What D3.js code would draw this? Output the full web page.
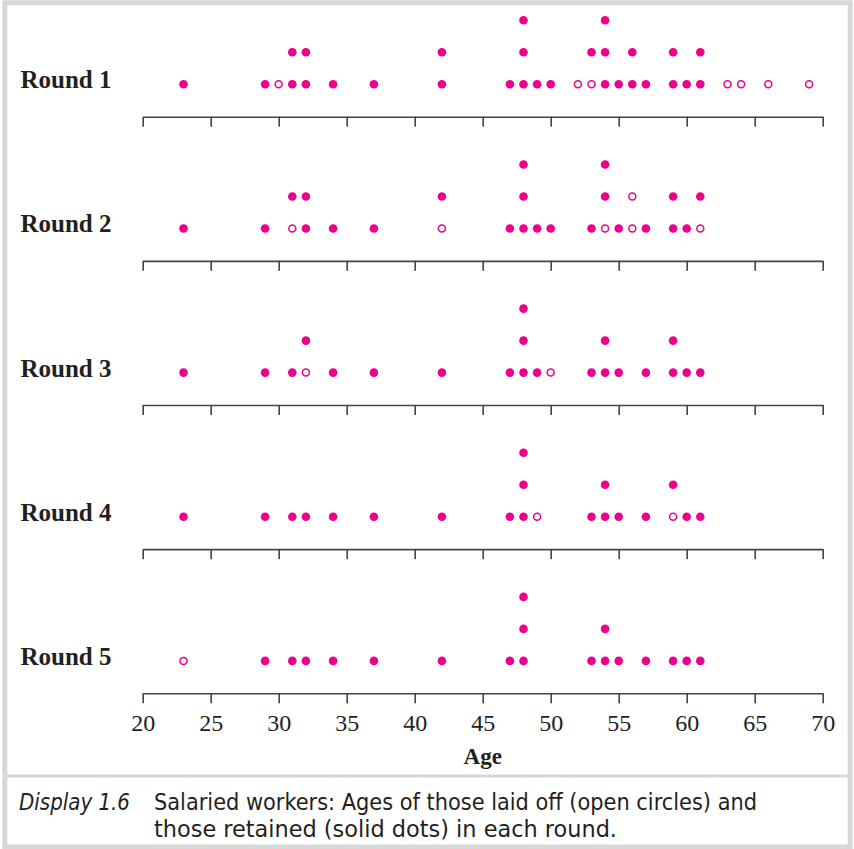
<!DOCTYPE html>
<html>
<head>
<meta charset="utf-8">
<script src="https://cdn.jsdelivr.net/npm/d3@7"></script>
<style>
  html, body { margin: 0; padding: 0; background: #fff; }
  svg { display: block; }
</style>
</head>
<body>
<svg id="chart" width="854" height="849"></svg>
<script>
// ---------------- DATA ----------------
const rounds = ["Round 1", "Round 2", "Round 3", "Round 4", "Round 5"];
// ages of those laid off in each round (open circles)
const laidOff1 = [30, 52, 53, 63, 64, 66, 69];
const laidOff2 = [31, 42, 54, 56, 56, 61];
const laidOff3 = [32, 50];
const laidOff4 = [49, 59];
const laidOff5 = [23];
// ages of those retained in each round (solid dots)
const retained1 = [23, 29, 31, 31, 32, 32, 34, 37, 42, 42, 47, 48, 48, 48, 49, 50, 53, 54, 54, 54, 55, 56, 56, 57, 59, 59, 60, 61, 61];
const retained2 = [23, 29, 31, 32, 32, 34, 37, 42, 47, 48, 48, 48, 49, 50, 53, 54, 54, 55, 57, 59, 59, 60, 61];
const retained3 = [23, 29, 31, 32, 34, 37, 42, 47, 48, 48, 48, 49, 53, 54, 54, 55, 57, 59, 59, 60, 61];
const retained4 = [23, 29, 31, 32, 34, 37, 42, 47, 48, 48, 48, 53, 54, 54, 55, 57, 59, 60, 61];
const retained5 = [29, 31, 32, 34, 37, 42, 47, 48, 48, 48, 53, 54, 54, 55, 57, 59, 60, 61];
const ageTicks = [20, 25, 30, 35, 40, 45, 50, 55, 60, 65, 70];
const xTitle = "Age";
const captionLabel = "Display 1.6";
const captionLines = ["Salaried workers: Ages of those laid off (open circles) and",
                      "those retained (solid dots) in each round."];

const laidOffAll = [laidOff1, laidOff2, laidOff3, laidOff4, laidOff5];
const retainedAll = [retained1, retained2, retained3, retained4, retained5];

// ---------------- DRAW ----------------
const svg = d3.select("#chart");
const ink = "#231f20";
const dotColor = "#ec008c";
const serif = "'Liberation Serif', 'Times New Roman', serif";

const x = d3.scaleLinear().domain([20, 70]).range([142.7, 822.7]);
const yRound = d3.scalePoint().domain(rounds).range([116.7, 693.3]);
const stackOff = d3.scaleLinear().domain([0, 1]).range([32.4, 64.4]);

// frame
svg.append("rect")
  .attr("x", 4.8).attr("y", 2.8).attr("width", 845.4).attr("height", 844.2)
  .attr("fill", "none").attr("stroke", "#d7d7d7").attr("stroke-width", 5);
svg.append("line")
  .attr("x1", 5).attr("x2", 850).attr("y1", 776).attr("y2", 776)
  .attr("stroke", "#d7d7d7").attr("stroke-width", 3);

rounds.forEach((r, i) => {
  const ay = yRound(r);
  // build points: open circles at bottom of each stack, then solid dots
  const pts = [];
  const counts = new Map();
  laidOffAll[i].forEach(a => { const k = counts.get(a) || 0; counts.set(a, k + 1); pts.push({age: a, k, open: true}); });
  retainedAll[i].forEach(a => { const k = counts.get(a) || 0; counts.set(a, k + 1); pts.push({age: a, k, open: false}); });

  const g = svg.append("g");

  // axis
  const axis = d3.axisBottom(x).tickValues(ageTicks).tickSize(10).tickSizeOuter(0).tickPadding(11);
  if (i < rounds.length - 1) axis.tickFormat("");
  const ag = g.append("g").attr("transform", `translate(0,${ay})`).call(axis);
  ag.select(".domain").attr("stroke", "#444").attr("stroke-width", 1.6);
  ag.selectAll(".tick line").attr("stroke", "#444").attr("stroke-width", 1.6);
  ag.selectAll(".tick text").attr("fill", ink).style("font-family", serif).style("font-size", "24px");

  // dots
  g.selectAll("circle.dot").data(pts).join("circle")
    .attr("class", "dot")
    .attr("cx", d => x(d.age))
    .attr("cy", d => ay - stackOff(d.k))
    .attr("r", d => d.open ? 3.5 : 4.3)
    .attr("fill", d => d.open ? "#fff" : dotColor)
    .attr("stroke", d => d.open ? dotColor : "none")
    .attr("stroke-width", 1.5);

  // label
  g.append("text")
    .attr("x", 20.5).attr("y", ay - stackOff(0) + 4)
    .attr("fill", ink)
    .style("font-family", serif).style("font-weight", "bold").style("font-size", "25px")
    .text(r);
});

// x title
svg.append("text")
  .attr("x", x(45)).attr("y", 764).attr("text-anchor", "middle")
  .attr("fill", ink)
  .style("font-family", serif).style("font-weight", "bold").style("font-size", "23px")
  .text(xTitle);

// caption
const capFont = "'Liberation Sans Narrow', 'DejaVu Sans Condensed', 'Liberation Sans', sans-serif";
svg.append("text")
  .attr("x", 19).attr("y", 810)
  .attr("fill", ink)
  .attr("textLength", 111).attr("lengthAdjust", "spacingAndGlyphs")
  .style("font-family", capFont).style("font-style", "italic").style("font-size", "23px")
  .text(captionLabel);
const capW = [603, 463];
captionLines.forEach((t, j) => {
  svg.append("text")
    .attr("x", 154).attr("y", 810 + j * 26.5)
    .attr("fill", ink)
    .attr("textLength", capW[j]).attr("lengthAdjust", "spacingAndGlyphs")
    .style("font-family", capFont).style("font-size", "23px")
    .text(t);
});
</script>
</body>
</html>
